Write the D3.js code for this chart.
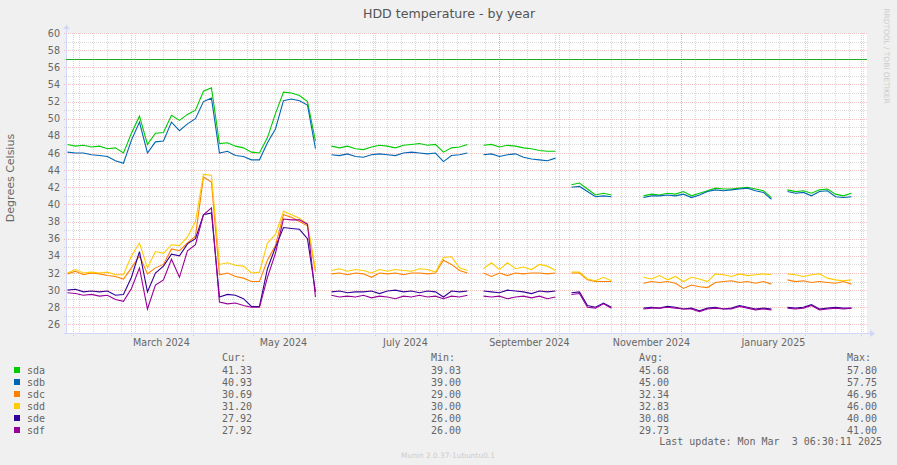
<!DOCTYPE html>
<html lang="en">
<head>
<meta charset="UTF-8">
<title>HDD temperature - by year</title>
<script src="https://cdn.jsdelivr.net/npm/d3@7"></script>
<style>
  body { margin: 0; background: #f0f0f0; }
  svg { display: block; }
  text { font-family: "DejaVu Sans", sans-serif; fill: #666; }
  .mono { font-family: "DejaVu Sans Mono", monospace; font-size: 10px; white-space: pre; }
</style>
</head>
<body>
<script>
// samples every 4 days starting 2024-01-29 (null = no data)
var sampleStart = Date.UTC(2024, 0, 29);
var stepDays = 4;

var sda = [47.0,46.8,46.9,46.7,46.8,46.5,46.6,46.0,48.3,50.3,47.0,48.3,48.4,50.4,49.8,50.5,51.0,53.2,53.6,47.1,
  47.2,46.8,46.6,46.1,46.0,47.8,50.6,53.1,53.0,52.7,52.0,47.4,null,46.8,46.6,46.8,46.5,46.4,46.7,46.9,
  46.8,46.6,46.9,47.0,47.1,46.9,47.0,46.1,46.6,46.7,47.0,null,46.9,47.0,46.7,46.9,46.8,46.6,46.5,46.3,
  46.2,46.2,null,42.3,42.5,41.8,41.1,41.3,41.1,null,null,null,41.0,41.2,41.1,41.3,41.2,41.5,41.0,41.3,
  41.6,41.9,41.8,41.8,41.9,42.0,41.8,41.6,40.8,null,41.7,41.5,41.6,41.3,41.7,41.8,41.2,41.0,41.3];
var sdb = [46.1,46.0,46.0,45.8,45.7,45.6,45.1,44.8,47.5,49.6,46.0,47.3,47.4,49.6,48.6,49.4,50.0,52.0,52.4,46.0,
  46.2,45.7,45.6,45.2,45.2,47.2,48.8,52.1,52.3,52.1,51.6,46.5,null,45.8,45.7,45.9,45.6,45.5,45.8,45.9,
  45.8,45.7,46.0,46.1,46.0,45.9,46.0,45.0,45.7,45.8,46.0,null,45.8,45.9,45.6,45.8,45.9,45.5,45.3,45.2,
  45.1,45.4,null,42.0,42.1,41.5,40.9,41.0,40.9,null,null,null,40.8,41.0,41.0,41.1,41.0,41.2,40.8,41.1,
  41.5,41.7,41.6,41.7,41.8,41.9,41.6,41.4,40.6,null,41.5,41.3,41.4,41.0,41.5,41.6,40.9,40.8,40.9];
var sdc = [31.9,32.2,31.8,32.0,31.9,31.7,31.6,31.3,32.6,34.0,31.9,32.6,33.0,34.8,34.6,35.5,36.3,43.2,42.6,31.8,
  32.0,31.6,31.4,31.0,31.0,33.5,35.2,38.8,38.5,38.0,37.5,32.2,null,31.9,32.0,31.8,32.0,31.9,31.5,32.0,
  31.9,32.0,31.8,32.0,32.0,31.9,32.0,33.5,33.0,32.3,32.0,null,32.0,31.6,32.0,31.7,32.0,31.9,32.0,32.0,
  31.9,32.0,null,32.0,32.0,31.2,31.0,31.0,31.0,null,null,null,30.8,31.0,30.9,31.0,30.8,30.2,30.6,30.4,
  30.3,30.9,31.0,31.1,30.9,31.0,30.8,31.0,30.7,null,31.2,31.0,31.1,30.9,31.0,30.9,30.8,31.0,30.7];
var sdd = [32.0,32.4,32.0,32.1,32.0,32.1,31.8,31.8,34.0,35.5,32.6,34.5,34.3,35.3,35.2,36.2,38.0,43.5,43.4,33.0,
  33.2,32.9,32.8,32.0,32.1,35.5,36.5,39.2,38.8,38.4,37.7,32.4,null,32.3,32.5,32.2,32.4,32.3,32.0,32.4,
  32.2,32.4,32.3,32.2,32.5,32.4,32.1,33.8,33.9,32.6,32.3,null,32.5,33.2,32.4,33.2,32.5,32.7,32.4,33.0,
  32.8,32.3,null,32.1,32.1,31.3,31.1,31.5,31.1,null,null,null,31.5,31.3,31.7,31.2,31.6,31.0,31.5,31.3,
  31.0,31.9,31.8,31.6,31.9,31.7,31.8,31.9,31.8,null,31.9,31.8,31.6,31.8,31.9,31.4,31.2,31.1,31.2];
var sde = [30.0,30.1,29.8,29.9,29.8,29.9,29.4,29.5,31.5,34.5,29.8,32.0,32.8,34.2,34.0,35.4,36.0,38.8,39.0,29.2,
  29.5,29.4,29.0,28.1,28.1,32.5,35.0,37.3,37.2,37.1,36.0,29.8,null,29.8,29.9,29.7,29.8,29.8,29.9,29.6,
  29.9,30.0,29.8,29.9,29.7,29.9,29.8,29.2,29.9,29.8,29.9,null,29.9,29.8,29.7,30.0,29.9,29.8,29.6,29.9,
  29.8,29.9,null,29.7,29.8,28.2,28.0,28.5,28.0,null,null,null,27.9,28.0,27.9,28.1,28.0,27.8,27.9,27.6,
  27.9,28.0,27.8,27.9,28.2,28.0,27.8,27.9,27.8,null,28.0,27.9,28.0,28.3,27.8,27.9,28.0,27.9,27.9];
var sdf = [29.7,29.6,29.4,29.5,29.3,29.4,28.9,28.7,30.2,32.6,27.8,30.6,31.2,33.6,31.5,34.6,35.3,38.8,39.6,28.6,
  28.4,28.5,28.2,28.0,28.0,31.5,34.3,38.3,38.2,38.2,37.7,29.2,null,29.4,29.2,29.3,29.2,29.4,29.1,29.3,
  29.2,29.0,29.3,29.2,29.4,29.2,29.3,29.0,29.3,29.2,29.4,null,29.3,29.2,29.3,29.0,29.2,29.3,29.1,29.3,
  29.0,29.2,null,29.5,29.6,28.0,27.9,28.4,27.9,null,null,null,27.8,27.9,27.9,28.0,27.9,27.8,27.8,27.5,
  27.8,27.9,27.8,27.8,28.1,27.9,27.7,27.8,27.7,null,27.9,27.8,27.9,28.2,27.7,27.8,27.9,27.8,27.9];

var names = ["sda", "sdb", "sdc", "sdd", "sde", "sdf"];
var colors = ["#00cc00", "#0066b3", "#ff8000", "#ffcc00", "#330099", "#990099"];
var curVals = ["41.33", "40.93", "30.69", "31.20", "27.92", "27.92"];
var minVals = ["39.03", "39.00", "29.00", "30.00", "26.00", "26.00"];
var avgVals = ["45.68", "45.00", "32.34", "32.83", "30.08", "29.73"];
var maxVals = ["57.80", "57.75", "46.96", "46.00", "40.00", "41.00"];
var warnLevel = 57;
var yTicks = d3.range(26, 61, 2);
var xLabelMonths = [new Date(Date.UTC(2024, 2, 16)), new Date(Date.UTC(2024, 4, 16)), new Date(Date.UTC(2024, 6, 16)),
  new Date(Date.UTC(2024, 8, 16)), new Date(Date.UTC(2024, 10, 16)), new Date(Date.UTC(2025, 0, 16))];
var lastUpdate = new Date(Date.UTC(2025, 2, 3, 6, 30, 11));

var series = [sda, sdb, sdc, sdd, sde, sdf];
var dates = sda.map(function(d, i) { return new Date(sampleStart + i * stepDays * 864e5); });

var W = 897, H = 465;
var plotL = 66, plotR = 867, plotT = 33, plotB = 333;

var x = d3.scaleUtc()
  .domain([new Date(+lastUpdate - 400 * 864e5), lastUpdate])
  .range([plotL, plotR - 1]);
var y = d3.scaleLinear().domain([25, 60]).range([plotB, plotT]);

var svg = d3.select("body").append("svg").attr("width", W).attr("height", H);
svg.append("rect").attr("width", W).attr("height", H).attr("fill", "#f0f0f0");
svg.append("rect").attr("x", plotL).attr("y", plotT).attr("width", plotR - plotL).attr("height", plotB - plotT).attr("fill", "#fff");

// grid
var minorGrid = "rgba(170,170,170,0.45)";
var majorGrid = "rgba(225,120,120,0.45)";
var minorY = d3.range(26, 61, 1).filter(function(v) { return v % 2 !== 0; });
svg.append("g").selectAll("line").data(minorY).join("line")
  .attr("x1", plotL - 2).attr("x2", plotR)
  .attr("y1", function(d) { return Math.round(y(d)) + 0.5; })
  .attr("y2", function(d) { return Math.round(y(d)) + 0.5; })
  .attr("stroke", minorGrid).attr("stroke-dasharray", "1,1");

var weeks = d3.utcSunday.range(x.domain()[0], x.domain()[1]);
svg.append("g").selectAll("line").data(weeks).join("line")
  .attr("x1", function(d) { return Math.round(x(d)) + 0.5; })
  .attr("x2", function(d) { return Math.round(x(d)) + 0.5; })
  .attr("y1", plotT).attr("y2", plotB + 2)
  .attr("stroke", minorGrid).attr("stroke-dasharray", "1,1");

svg.append("g").selectAll("line").data(yTicks).join("line")
  .attr("x1", plotL - 2).attr("x2", plotR)
  .attr("y1", function(d) { return Math.round(y(d)) + 0.5; })
  .attr("y2", function(d) { return Math.round(y(d)) + 0.5; })
  .attr("stroke", majorGrid).attr("stroke-dasharray", "1,1");

var months = d3.utcMonth.range(x.domain()[0], x.domain()[1]);
svg.append("g").selectAll("line").data(months).join("line")
  .attr("x1", function(d) { return Math.round(x(d)) + 0.5; })
  .attr("x2", function(d) { return Math.round(x(d)) + 0.5; })
  .attr("y1", plotT).attr("y2", plotB + 3)
  .attr("stroke", majorGrid).attr("stroke-dasharray", "1,1");

// axes
svg.append("line").attr("x1", plotL + 0.5).attr("x2", plotL + 0.5).attr("y1", plotB + 1).attr("y2", plotT - 5)
  .attr("stroke", "#cfd6f8");
svg.append("line").attr("x1", plotL - 2).attr("x2", plotR + 3).attr("y1", plotB + 0.5).attr("y2", plotB + 0.5)
  .attr("stroke", "#cfd6f8");
svg.append("path").attr("d", "M" + (plotL - 3) + "," + (plotT - 4) + "L" + (plotL + 4) + "," + (plotT - 4) + "L" + (plotL + 0.5) + "," + (plotT - 8) + "Z")
  .attr("fill", "#cfd6f8");
svg.append("path").attr("d", "M" + (plotR + 3) + "," + (plotB - 3) + "L" + (plotR + 3) + "," + (plotB + 4) + "L" + (plotR + 8) + "," + (plotB + 0.5) + "Z")
  .attr("fill", "#cfd6f8");

svg.append("g").selectAll("text").data(yTicks).join("text")
  .attr("x", 60).attr("y", function(d) { return y(d) + 3.5; })
  .attr("text-anchor", "end").style("font-size", "9.6px")
  .text(function(d) { return d; });

svg.append("g").selectAll("text").data(xLabelMonths).join("text")
  .attr("x", function(d) { return x(d); }).attr("y", 346)
  .attr("text-anchor", "middle").style("font-size", "9.6px")
  .text(function(d) { return d3.utcFormat("%B %Y")(d); });

// warning rule
svg.append("line").attr("x1", plotL).attr("x2", plotR)
  .attr("y1", Math.round(y(warnLevel)) + 0.5).attr("y2", Math.round(y(warnLevel)) + 0.5)
  .attr("stroke", "#22aa22");

// series
var line = d3.line()
  .defined(function(d) { return d[1] != null; })
  .x(function(d) { return x(d[0]); })
  .y(function(d) { return y(d[1]); });

series.forEach(function(s, k) {
  svg.append("path")
    .datum(s.map(function(v, i) { return [dates[i], v]; }))
    .attr("fill", "none").attr("stroke", colors[k]).attr("stroke-width", 1.1)
    .attr("d", line);
});

// titles
svg.append("text").attr("x", 449).attr("y", 18).attr("text-anchor", "middle")
  .style("font-size", "12.6px").style("fill", "#555").text("HDD temperature - by year");
svg.append("text").attr("transform", "translate(14,178) rotate(-90)").attr("text-anchor", "middle")
  .style("font-size", "11px").text("Degrees Celsius");
svg.append("text").attr("transform", "translate(884,56) rotate(90)").attr("text-anchor", "middle")
  .style("font-size", "7.4px").style("fill", "#ccc").text("RRDTOOL / TOBI OETIKER");
svg.append("text").attr("x", 448).attr("y", 458).attr("text-anchor", "middle")
  .style("font-size", "7.4px").style("fill", "#ccc").text("Munin 2.0.37-1ubuntu0.1");

// legend
var cols = [222, 431, 639, 847];
var heads = ["Cur:", "Min:", "Avg:", "Max:"];
var vals = [curVals, minVals, avgVals, maxVals];
heads.forEach(function(h, c) {
  svg.append("text").attr("class", "mono").attr("x", cols[c]).attr("y", 361).text(h);
});
names.forEach(function(n, k) {
  var by = 374 + k * 12;
  svg.append("rect").attr("x", 14).attr("y", by - 7).attr("width", 6).attr("height", 6).attr("fill", colors[k]);
  svg.append("text").attr("class", "mono").attr("x", 27).attr("y", by).text(n);
  vals.forEach(function(v, c) {
    svg.append("text").attr("class", "mono").attr("x", cols[c]).attr("y", by).text(v[k]);
  });
});
svg.append("text").attr("class", "mono").attr("x", 882).attr("y", 445).attr("text-anchor", "end")
  .text("Last update: " + d3.utcFormat("%a %b %e %H:%M:%S %Y")(lastUpdate));
</script>
</body>
</html>
